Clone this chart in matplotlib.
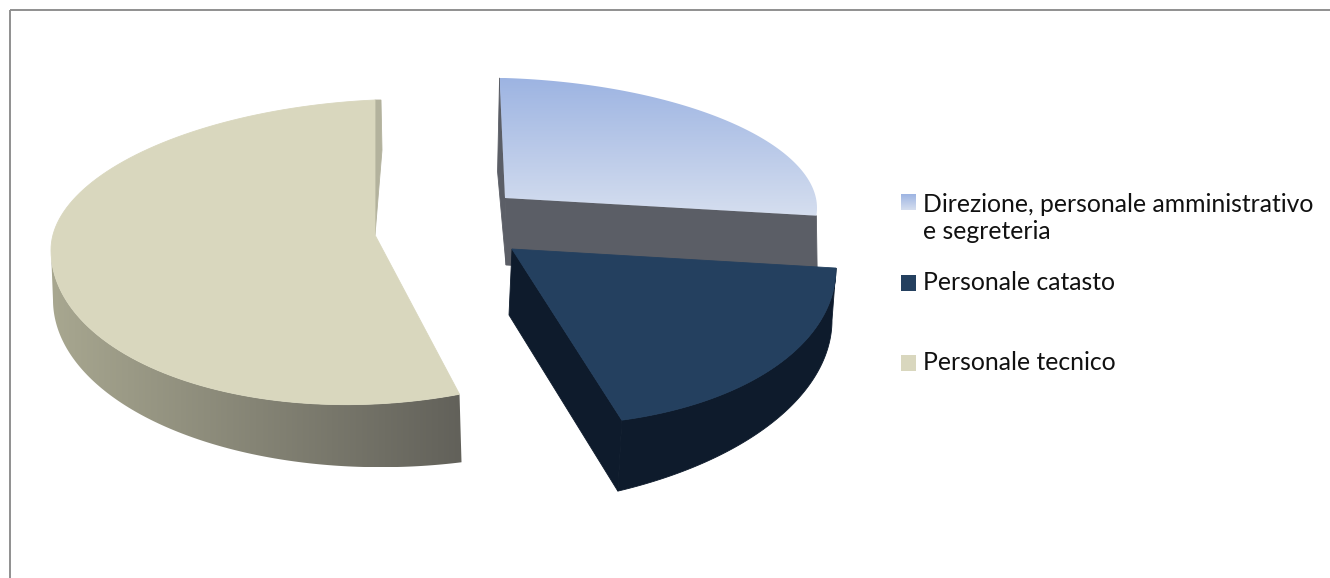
import numpy as np
import matplotlib
matplotlib.use("Agg")
import matplotlib.pyplot as plt
from matplotlib.patches import PathPatch, Polygon, Rectangle
from matplotlib.path import Path
from matplotlib.colors import LinearSegmentedColormap

# values (percent of staff)
categories = ["Direzione, personale amministrativo\ne segreteria", "Personale catasto", "Personale tecnico"]
shares = [26.3, 19.5, 54.2]

top_colors = ["#9db4e2", "#24405f", "#d9d7be"]
fade_color = "#d5deef"
side_colors = ["#5b5e66", "#0e1b2c", "#a8a790"]
side_dark = "#62615a"

W, H = 1330, 578

# per-slice placement: apex, radius, upper/lower squash, tilt, extrusion, turn of the slice
slices = [
    dict(cx=505, cy=198, rx=312, ry_up=120, ry_lo=120, tilt=0.032, depth=67, far=67, dx=1, turn=1.0),
    dict(cx=512, cy=249, rx=324, ry_up=175, ry_lo=175, tilt=0.059, depth=71, far=52, dx=-4, turn=4.7),
    dict(cx=375, cy=235, rx=324, ry_up=135, ry_lo=169, tilt=-0.046, depth=68, far=50, dx=2, turn=0.0),
]


def arc_points(s, a0, a1, n=120):
    t = np.radians(np.linspace(a0, a1, n))
    x = s["cx"] + s["rx"] * np.cos(t)
    ry = np.where(np.sin(t) >= 0, s["ry_up"], s["ry_lo"])
    y = s["cy"] - ry * np.sin(t) + s["tilt"] * s["rx"] * np.cos(t)
    return np.column_stack([x, y])


def wall(s, arc, near_first):
    # the rim looks thicker towards the viewer, so depth grows along the arc
    u = np.linspace(0, 1, len(arc)) ** 2
    if near_first:
        u = u[::-1]
    lower = arc + np.column_stack([np.full(len(arc), s["dx"]), s["far"] + (s["depth"] - s["far"]) * u])
    return np.vstack([arc, lower[::-1]])


def gradient_fill(ax, poly, c0, c1, vertical, zorder):
    cmap = LinearSegmentedColormap.from_list("g", [c0, c1])
    xmin, ymin = poly.min(axis=0)
    xmax, ymax = poly.max(axis=0)
    ramp = np.linspace(0, 1, 256)
    ramp = ramp[:, None] if vertical else ramp[None, :]
    im = ax.imshow(ramp, cmap=cmap, extent=(xmin, xmax, ymax, ymin), aspect="auto", zorder=zorder)
    clip = PathPatch(Path(np.vstack([poly, poly[0]]), closed=True), transform=ax.transData, fc="none", ec="none")
    ax.add_patch(clip)
    im.set_clip_path(clip)


def flat(ax, poly, color, zorder):
    # thin edge in the same colour hides the seams between faces
    ax.add_patch(Polygon(poly, fc=color, ec=color, lw=0.6, zorder=zorder))


fig = plt.figure(figsize=(W / 100, H / 100), dpi=100)
ax = fig.add_axes([0, 0, 1, 1])

edges = 90 - np.cumsum([0] + shares) * 3.6
for i, s in enumerate(slices):
    s["a0"] = edges[i] + s["turn"]
    s["a1"] = edges[i + 1] + s["turn"]
    s["apex"] = np.array([s["cx"], s["cy"]], dtype=float)
    s["arc"] = arc_points(s, s["a0"], s["a1"])
    s["shift"] = np.array([s["dx"], s["depth"]], dtype=float)

# Direzione
d = slices[0]
side = np.array([d["apex"], d["arc"][-1], d["arc"][-1] + d["shift"], d["apex"] + d["shift"]])
flat(ax, side, side_colors[0], 2)
tip = d["arc"][0]
sliver = np.array([tip, tip + [-2, d["depth"] * 1.4], d["apex"] + d["shift"], d["apex"]])
flat(ax, sliver, side_colors[0], 2)
top = np.vstack([d["apex"], d["arc"]])
gradient_fill(ax, top, top_colors[0], fade_color, True, 3)

# Catasto
c = slices[1]
flat(ax, wall(c, c["arc"], False), side_colors[1], 4)
end = c["arc"][-1]
face = np.array([c["apex"], end, end + c["shift"], c["apex"] + [c["dx"] + 1, 66]])
flat(ax, face, side_colors[1], 4)
flat(ax, np.vstack([c["apex"], c["arc"]]), top_colors[1], 5)

# Tecnico, the arc runs clockwise past the bottom, only the front part shows a wall
t = slices[2]
front = arc_points(t, t["a0"], -180)
gradient_fill(ax, wall(t, front, True), side_colors[2], side_dark, False, 2)
tip = t["arc"][-1]
sliver = np.array([t["apex"], tip, tip + [6, 0], tip + [7, 50]])
flat(ax, sliver, "#b3b29d", 2)
flat(ax, np.vstack([t["apex"], t["arc"]]), top_colors[2], 3)

# legend, spacing is uneven in the original so placed by hand
swatch_y = [194, 275, 355]
text_y = [218, 283, 363]
for i, label in enumerate(categories):
    if i == 0:
        box = np.array([[901, swatch_y[i]], [916, swatch_y[i]], [916, swatch_y[i] + 16], [901, swatch_y[i] + 16]])
        gradient_fill(ax, box, top_colors[0], fade_color, True, 6)
    else:
        ax.add_patch(Rectangle((901, swatch_y[i]), 15, 15.5, fc=top_colors[i], ec="none", zorder=6))
    ax.text(923, text_y[i], label, fontsize=17.8, family="Lato", color="#111111", va="center", ha="left", linespacing=1.25)

# chart frame
ax.add_patch(Rectangle((9.5, 10), W, H, fc="none", ec="#8f8f8f", lw=1.4, zorder=7))

ax.set_xlim(0, W)
ax.set_ylim(H, 0)
ax.axis("off")
fig.savefig("out.png", dpi=100)
